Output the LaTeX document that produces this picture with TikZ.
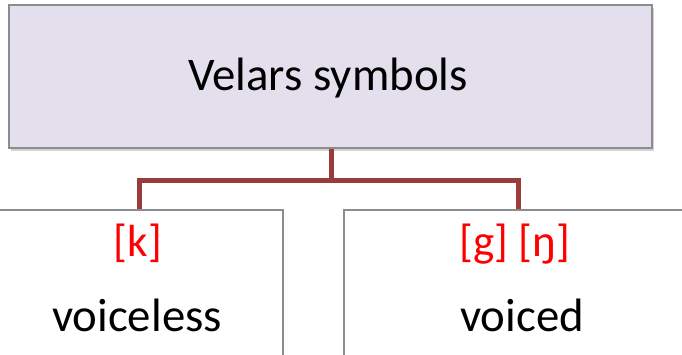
\documentclass[tikz,border=0pt]{standalone}
\usepackage{fontspec}
\setmainfont{Carlito}
\usetikzlibrary{shadows}
\definecolor{lav}{RGB}{228,223,236}
\definecolor{boxline}{RGB}{140,140,140}
\definecolor{conn}{RGB}{155,60,60}
\definecolor{ipared}{RGB}{255,0,0}
\tikzset{
  topbox/.style={draw=boxline, line width=1.4pt, fill=lav, rectangle, inner sep=0pt,
    drop shadow={shadow xshift=2pt, shadow yshift=-3pt, opacity=0.35}},
  leafbox/.style={draw=boxline, line width=1.4pt, fill=white, rectangle, inner sep=0pt},
  conline/.style={draw=conn, line width=5pt},
  bigtxt/.style={font=\fontsize{46.8}{52}\selectfont, inner sep=0pt, anchor=base},
  redtxt/.style={font=\fontsize{45}{50}\selectfont, text=ipared, inner sep=0pt, anchor=base}
}
\begin{document}
\begin{tikzpicture}[x=1pt,y=1pt]
\useasboundingbox (0,0) rectangle (682,-354);
\clip (0,0) rectangle (682,-354);
\node[topbox, minimum width=643pt, minimum height=143pt] (top) at (330.5,-76.5) {};
\node[leafbox, minimum width=288pt, minimum height=160pt] (left) at (139,-290) {};
\node[leafbox, minimum width=348pt, minimum height=160pt] (right) at (518,-290) {};
\coordinate (mid) at (331,-180);
\draw[conline] (top.south -| mid) -- (mid);
\draw[conline] (mid) -| (left.north);
\draw[conline] (mid) -| (right.north);
\node[bigtxt] (title) at (328,-90) {Velars symbols};
\node[redtxt] (k) at (138,-256.7) {[k]};
\node[bigtxt] (vl) at (137,-331.7) {voiceless};
\node[redtxt] (gn) at (515,-256.7) {[g] [ŋ]};
\node[bigtxt] (vd) at (522,-331.7) {voiced};
\end{tikzpicture}
\end{document}
